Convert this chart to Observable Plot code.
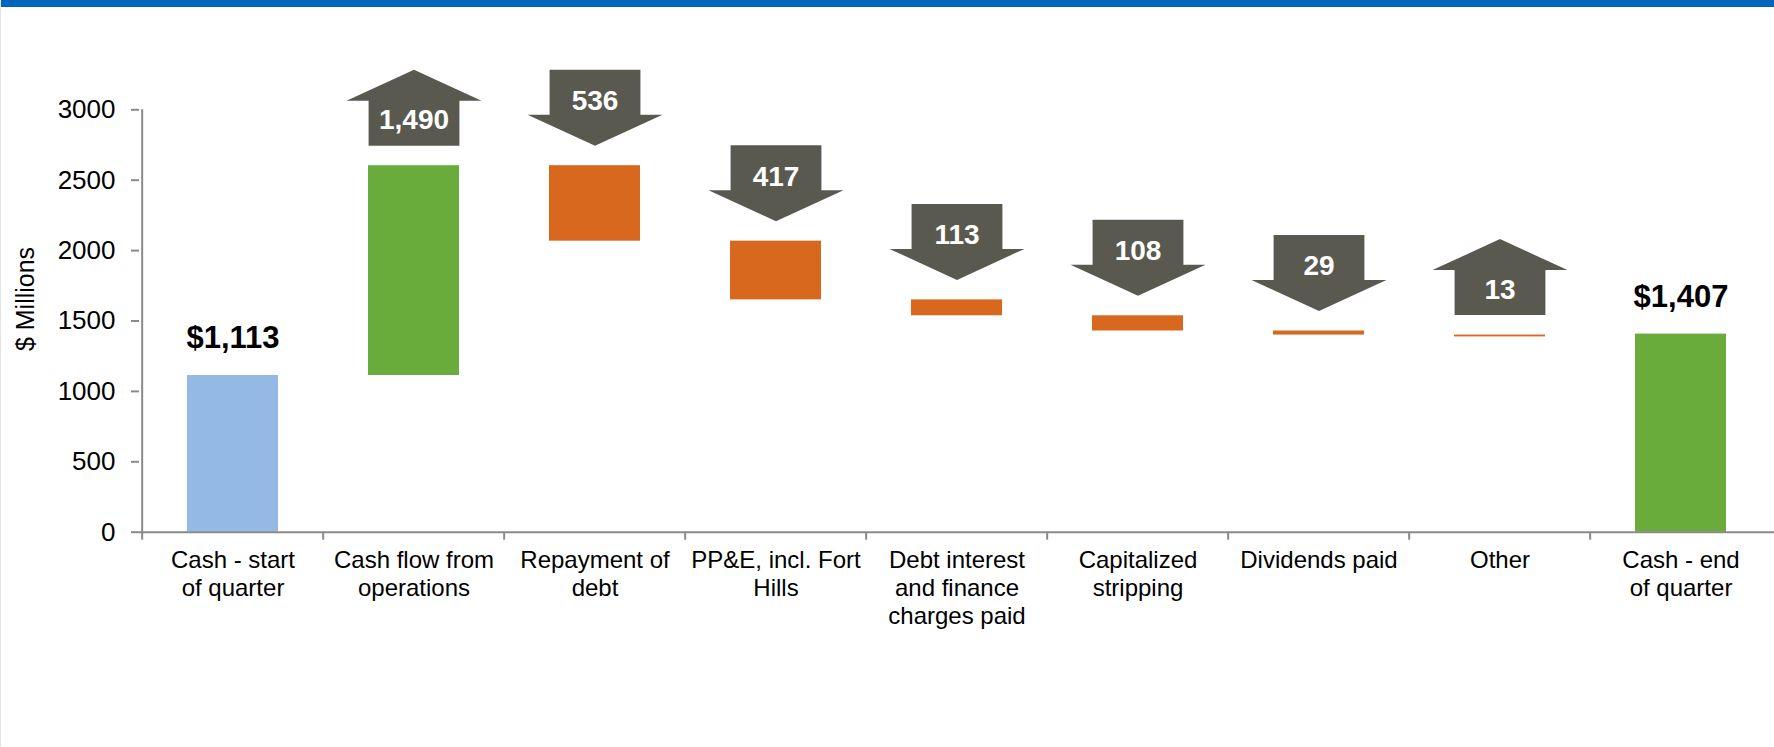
<!DOCTYPE html>
<html>
<head>
<meta charset="utf-8">
<script src="https://cdn.jsdelivr.net/npm/d3@7"></script>
<script src="https://cdn.jsdelivr.net/npm/@observablehq/plot@0.6"></script>
<style>
html, body { margin: 0; padding: 0; background: #fff; }
#wrap { position: relative; width: 1774px; height: 747px; overflow: hidden; font-family: "Liberation Sans", Arial, sans-serif; background: #fff; }
#stripe { position: absolute; left: 0; top: 0; width: 100%; height: 7px; background: #0066bd; z-index: 2; }
#edge { position: absolute; left: 0; top: 0; width: 1px; height: 100%; background: #e2e2e2; z-index: 2; }
#chart svg { display: block; max-width: none; }
</style>
</head>
<body>
<div id="wrap"><div id="chart"></div><div id="stripe"></div><div id="edge"></div></div>
<script>
// ---- data ----
const categories = [
  "Cash - start of quarter",
  "Cash flow from operations",
  "Repayment of debt",
  "PP&E, incl. Fort Hills",
  "Debt interest and finance charges paid",
  "Capitalized stripping",
  "Dividends paid",
  "Other",
  "Cash - end of quarter"
];
const categoryLabels = [
  "Cash - start\nof quarter",
  "Cash flow from\noperations",
  "Repayment of\ndebt",
  "PP&E, incl. Fort\nHills",
  "Debt interest\nand finance\ncharges paid",
  "Capitalized\nstripping",
  "Dividends paid",
  "Other",
  "Cash - end\nof quarter"
];
const values = [1113, 1490, -536, -417, -113, -108, -29, -13, 1407];
const barKinds = ["start", "change", "change", "change", "change", "change", "change", "change", "end"];
const arrowLabels = [null, "1,490", "536", "417", "113", "108", "29", "13", null];
const arrowDirections = [null, "up", "down", "down", "down", "down", "down", "up", null];
const yTicks = [0, 500, 1000, 1500, 2000, 2500, 3000];
const yLabel = "$ Millions";

// ---- layout / style ----
const W = 1774, H = 747;
const mL = 139, mR = 0, mT = 109.3, mB = 215.3;
const step = (W - mL - mR) / categories.length;
const FONT = "'Liberation Sans', Arial, sans-serif";
const AXIS = "#8a8a8a";
const ARROW = "#59594f";
const C_START = "#95b9e5", C_UP = "#6aac3c", C_DOWN = "#d8681e";

let cum = 0;
const rows = categories.map((c, i) => {
  const v = values[i], k = barKinds[i];
  let y1, y2;
  if (k === "change") { y1 = cum; y2 = cum + v; cum = y2; }
  else { y1 = 0; y2 = v; cum = v; }
  return {
    cat: c, label: categoryLabels[i], value: v, kind: k, y1, y2,
    top: Math.max(y1, y2), arrow: arrowLabels[i], dir: arrowDirections[i],
    total: k !== "change" ? "$" + d3.format(",")(v) : null
  };
});
const colorOf = d => d.kind === "start" ? C_START : d.kind === "end" ? C_UP : (d.value > 0 ? C_UP : C_DOWN);

// arrow shapes (pixel geometry relative to the bar top)
const G = 20, SW = step * 0.25, HW = 67.5, HH = 31, TOT = 76;
const downArrow = {draw(ctx) {
  ctx.moveTo(-SW, -(G + TOT)); ctx.lineTo(SW, -(G + TOT)); ctx.lineTo(SW, -(G + HH));
  ctx.lineTo(HW, -(G + HH)); ctx.lineTo(0, -G); ctx.lineTo(-HW, -(G + HH));
  ctx.lineTo(-SW, -(G + HH)); ctx.closePath();
}};
const upArrow = {draw(ctx) {
  ctx.moveTo(-SW, -G); ctx.lineTo(SW, -G); ctx.lineTo(SW, -(G + TOT - HH));
  ctx.lineTo(HW, -(G + TOT - HH)); ctx.lineTo(0, -(G + TOT)); ctx.lineTo(-HW, -(G + TOT - HH));
  ctx.lineTo(-SW, -(G + TOT - HH)); ctx.closePath();
}};

const downs = rows.filter(d => d.dir === "down");
const ups = rows.filter(d => d.dir === "up");
const totals = rows.filter(d => d.total);

const chart = Plot.plot({
  width: W, height: H,
  marginLeft: mL, marginRight: mR, marginTop: mT, marginBottom: mB,
  style: {fontFamily: FONT, background: "transparent", color: "#000", overflow: "visible"},
  x: {type: "band", domain: categories, paddingInner: 0.5, paddingOuter: 0.25, axis: null},
  y: {domain: [yTicks[0], yTicks[yTicks.length - 1]]},
  color: {type: "identity"},
  marks: [
    Plot.barY(rows, {x: "cat", y1: "y1", y2: "y2", fill: colorOf}),
    // y axis line
    Plot.ruleX([categories[0]], {dx: -step / 2, y1: () => yTicks[0], y2: () => yTicks[yTicks.length - 1], stroke: AXIS, strokeWidth: 2}),
    // x axis line
    Plot.ruleY([0], {stroke: AXIS, strokeWidth: 2}),
    // category boundary ticks
    Plot.ruleX(rows, {x: "cat", dx: -step / 2, y1: () => 0, y2: () => 0, insetTop: 0, insetBottom: -8, stroke: AXIS, strokeWidth: 2}),
    Plot.axisY({ticks: yTicks, tickSize: 8, tickPadding: 16, tickFormat: d => String(d), fontSize: 26, stroke: AXIS, strokeWidth: 2, fill: "#000", label: null}),
    Plot.text([yLabel], {frameAnchor: "left", textAnchor: "middle", text: d => d, rotate: -90, dx: -114, dy: -22, fontSize: 25, fill: "#000"}),
    // category labels
    Plot.text(rows, {x: "cat", y: () => 0, text: "label", lineAnchor: "top", dy: 16, fontSize: 24, lineHeight: 1.17, fill: "#000"}),
    // totals
    Plot.text(totals, {x: "cat", y: "top", text: "total", dy: -37.5, fontSize: 31, fontWeight: "bold", fill: "#000"}),
    // arrows
    Plot.dot(downs, {x: "cat", y: "top", symbol: downArrow, r: 10, fill: ARROW, stroke: null}),
    Plot.dot(ups, {x: "cat", y: "top", symbol: upArrow, r: 10, fill: ARROW, stroke: null}),
    Plot.text(downs, {x: "cat", y: "top", text: "arrow", dy: -(G + 44.5), fontSize: 28, fontWeight: "bold", fill: "#fff"}),
    Plot.text(ups, {x: "cat", y: "top", text: "arrow", dy: -(G + 25.5), fontSize: 28, fontWeight: "bold", fill: "#fff"})
  ]
});
document.getElementById("chart").appendChild(chart);
</script>
</body>
</html>
